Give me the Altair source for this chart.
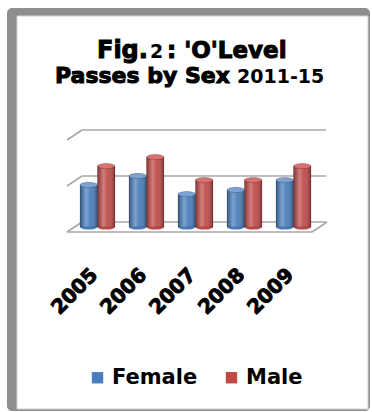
import altair as alt
import pandas as pd

# ---- data -------------------------------------------------------------
years = ["2005", "2006", "2007", "2008", "2009"]
female = [1830, 2220, 1430, 1610, 2040]
male = [2650, 3040, 2040, 2040, 2650]
series = ["Female", "Male"]
grid_levels = [0, 2000, 4000]

series_colors = ["#4A7EBB", "#BE4B48"]
cap_colors = ["#7BA3D6", "#D9716E"]

rows = []
for name, vals in zip(series, [female, male]):
    for yr, v in zip(years, vals):
        rows.append({"year": yr, "sex": name, "value": v})
bars = pd.DataFrame(rows)
grid = pd.DataFrame({"level": grid_levels})
floor = pd.DataFrame({"level": [grid_levels[0]]})
one = pd.DataFrame({"k": [0]})

W, H = 372, 412
FONT = "DejaVu Sans"

# ---- scales -----------------------------------------------------------
x_scale = alt.Scale(domain=years, range=[73, 318], paddingInner=0.286, paddingOuter=0.143)
off_scale = alt.Scale(domain=series, paddingInner=0, paddingOuter=0)
y_scale = alt.Scale(domain=[0, 4000], range=[227, 135], nice=False, zero=False)

X = alt.X("year:N", scale=x_scale, axis=None)
XO = alt.XOffset("sex:N", scale=off_scale)
Y = alt.Y("value:Q", scale=y_scale, axis=None)
Y0 = alt.YDatum(0, scale=y_scale, axis=None)

color_enc = alt.Color(
    "sex:N",
    scale=alt.Scale(domain=series, range=series_colors),
    legend=alt.Legend(
        title=None,
        orient="none",
        direction="horizontal",
        legendX=87,
        legendY=367,
        padding=0,
        symbolType="square",
        symbolSize=130,
        symbolStrokeWidth=0,
        symbolOpacity=1,
        labelFont=FONT,
        labelFontSize=21,
        labelFontWeight="bold",
        labelColor="#000000",
        labelOffset=4,
        labelLimit=200,
        columnPadding=23,
    ),
)

# ---- frame ------------------------------------------------------------
frame_outer = alt.Chart(one).mark_rect(fill="#8E8E8E", cornerRadius=5).encode(
    x=alt.value(7), x2=alt.value(370), y=alt.value(8), y2=alt.value(411)
)
frame_inner = alt.Chart(one).mark_rect(fill="white", stroke="#D2D2D2", strokeWidth=1).encode(
    x=alt.value(17), x2=alt.value(368), y=alt.value(16), y2=alt.value(409)
)

# ---- 3-D walls: back gridlines, side diagonals, floor -------------------
GRID = "#A8A8A8"
LEVEL = alt.Y("level:Q", scale=y_scale, axis=None)
back_lines = alt.Chart(grid).mark_rule(color=GRID, strokeWidth=1.6, yOffset=-5).encode(
    x=alt.value(82), x2=alt.value(326), y=LEVEL
)
side_lines = alt.Chart(grid).mark_rule(color=GRID, strokeWidth=1.6, yOffset=5, y2Offset=-5).encode(
    x=alt.value(67), x2=alt.value(82), y=LEVEL, y2=alt.Y2("level:Q")
)
floor_front = alt.Chart(floor).mark_rule(color=GRID, strokeWidth=1.6, yOffset=5).encode(
    x=alt.value(67), x2=alt.value(312), y=LEVEL
)
floor_right = alt.Chart(floor).mark_rule(color=GRID, strokeWidth=1.6, yOffset=5, y2Offset=-5).encode(
    x=alt.value(312), x2=alt.value(327), y=LEVEL, y2=alt.Y2("level:Q")
)

# ---- cylinders ----------------------------------------------------------
ELLIPSE = "M -1 0 A 1 0.3 0 1 1 1 0 A 1 0.3 0 1 1 -1 0 Z"

cyl_bottom = alt.Chart(bars).mark_point(shape=ELLIPSE, size=300, filled=True, opacity=1).encode(
    x=X, xOffset=XO, y=Y0, color=color_enc
)
cyl_body = alt.Chart(bars).mark_bar(opacity=1).encode(
    x=X, xOffset=XO, y=Y, y2=alt.Y2Datum(0), color=color_enc
)
shade = alt.Gradient(
    gradient="linear", x1=0, x2=1, y1=0, y2=0,
    stops=[
        alt.GradientStop(color="rgba(0,0,0,0.30)", offset=0),
        alt.GradientStop(color="rgba(255,255,255,0.28)", offset=0.35),
        alt.GradientStop(color="rgba(255,255,255,0.05)", offset=0.6),
        alt.GradientStop(color="rgba(0,0,0,0.35)", offset=1),
    ],
)
cyl_shade = alt.Chart(bars).mark_bar(fill=shade, stroke="rgba(0,0,0,0.25)", strokeWidth=0.6).encode(
    x=X, xOffset=XO, y=Y, y2=alt.Y2Datum(0)
)
cyl_top = alt.Chart(bars).mark_point(
    shape=ELLIPSE, size=300, filled=True, opacity=1, stroke="rgba(0,0,0,0.35)", strokeWidth=0.6
).encode(
    x=X, xOffset=XO, y=Y,
    fill=alt.Fill("sex:N", scale=alt.Scale(domain=series, range=cap_colors), legend=None),
)

# ---- year labels --------------------------------------------------------
year_labels = alt.Chart(pd.DataFrame({"year": years})).mark_text(
    font=FONT, fontSize=20, fontWeight="bold", color="black", stroke="black", strokeWidth=0.9,
    angle=315, align="right", baseline="middle", xOffset=-3, yOffset=45,
).encode(x=X, y=Y0, text="year:N")

# ---- title --------------------------------------------------------------
def title_text(txt, x, y, size, heavy=True):
    props = dict(font=FONT, fontSize=size, fontWeight="bold", color="black",
                 align="left", baseline="alphabetic")
    if heavy:
        props.update(stroke="black", strokeWidth=1.0)
    return alt.Chart(one).mark_text(**props).encode(
        x=alt.value(x), y=alt.value(y), text=alt.value(txt)
    )

titles = [
    title_text("Fig.", 97, 58, 24),
    title_text("2", 150, 58, 19, heavy=False),
    title_text(": 'O'Level", 167, 58, 23),
    title_text("Passes by Sex", 55, 83, 22),
    title_text("2011-15", 237, 83, 19, heavy=False),
]

chart = alt.layer(
    frame_outer, frame_inner,
    back_lines, side_lines, floor_front, floor_right,
    cyl_bottom, cyl_body, cyl_shade, cyl_top,
    year_labels, *titles,
).properties(
    width=W, height=H, padding=0, autosize=alt.AutoSizeParams(type="none"), background="white"
).configure_view(stroke=None)

chart.save("out.html", embed_options={"renderer": "svg", "actions": False})
